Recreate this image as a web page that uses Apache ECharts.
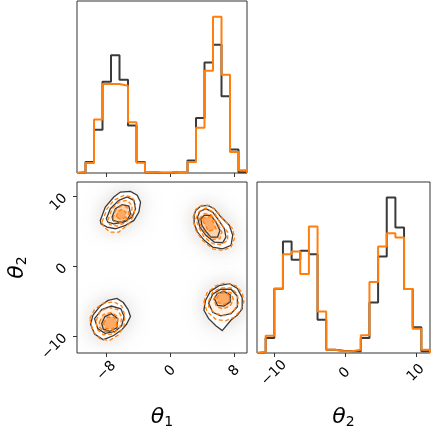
<!DOCTYPE html>
<html>
<head>
<meta charset="utf-8">
<script src="https://cdn.jsdelivr.net/npm/echarts@6/dist/echarts.min.js"></script>
<style>html,body{margin:0;padding:0;background:#fff}#c{width:431px;height:431px}</style>
</head>
<body>
<div id="c"></div>
<script>
// ---- data ----
const th1Range = [-11.7, 9.6];
const th2Range = [-12.4, 12.0];
const th1Ticks = [-8, 0, 8];
const th2Ticks = [-10, 0, 10];
// histogram heights (20 bins each)
const histTh1Black  = [2, 33, 130, 275, 355, 281, 143, 33, 2, 1, 1, 3, 3, 38, 166, 333, 386, 231, 71, 2];
const histTh1Orange = [2, 30, 161, 268, 268, 263, 153, 31, 3, 1, 1, 3, 3, 33, 136, 308, 471, 296, 63, 8];
const histTh2Black  = [2, 45, 193, 335, 280, 307, 297, 100, 10, 7, 5, 5, 45, 152, 290, 467, 377, 192, 77, 5];
const histTh2Orange = [2, 52, 193, 297, 305, 237, 380, 125, 10, 5, 5, 10, 53, 213, 320, 360, 347, 192, 73, 10];
// contour polygons (theta1, theta2), outer -> inner
const blackClusterA = [
  [[-8.78,6.52],[-8.15,8.43],[-7.09,9.86],[-6.26,10.57],[-5.0,10.67],[-4.16,10.1],[-3.74,9.14],[-3.95,7.71],[-4.57,6.52],[-5.63,5.81],[-6.89,5.33],[-7.93,5.57],[-8.69,6.04]],
  [[-8.02,6.76],[-7.52,8.19],[-6.46,9.39],[-5.42,9.86],[-4.57,9.39],[-4.37,8.19],[-4.79,7.0],[-5.83,6.29],[-7.09,6.04],[-7.85,6.29]],
  [[-7.3,7.0],[-6.89,8.19],[-6.05,8.76],[-5.2,8.57],[-5.0,7.47],[-5.42,6.52],[-6.46,6.29],[-7.18,6.52]]
];
const orangeClusterA = [
  [[-8.56,6.29],[-7.93,8.19],[-7.09,9.39],[-5.83,10.1],[-4.79,9.86],[-4.37,8.9],[-4.57,7.24],[-5.2,6.04],[-6.46,4.86],[-7.52,4.86],[-8.35,5.57]],
  [[-7.85,6.52],[-7.3,8.19],[-6.46,9.14],[-5.42,9.39],[-4.79,8.67],[-4.87,7.24],[-5.5,6.29],[-6.68,5.71],[-7.6,5.9]],
  [[-7.18,6.76],[-6.89,7.95],[-6.17,8.57],[-5.42,8.43],[-5.2,7.47],[-5.63,6.52],[-6.46,6.19],[-7.09,6.39]],
  [[-6.76,7.0],[-6.59,7.81],[-6.05,8.1],[-5.58,7.71],[-5.63,7.0],[-6.17,6.61]]
];
const blackClusterB = [
  [[2.98,7.24],[3.18,7.95],[3.82,8.57],[4.66,8.67],[5.5,8.19],[6.34,7.0],[7.39,5.81],[7.81,4.39],[7.6,2.96],[6.55,2.47],[5.29,2.71],[4.24,3.67],[3.4,4.86],[2.98,6.04]],
  [[3.4,7.0],[3.69,7.81],[4.45,8.19],[5.29,7.71],[5.92,6.76],[6.76,5.33],[6.96,4.14],[6.55,3.33],[5.5,3.43],[4.45,4.39],[3.69,5.57]],
  [[3.82,6.76],[4.24,7.24],[5.08,7.24],[5.71,6.29],[6.21,5.1],[5.92,4.14],[5.08,4.14],[4.45,4.95],[3.94,5.81]]
];
const orangeClusterB = [
  [[2.86,7.0],[3.19,8.1],[3.94,8.67],[4.87,8.67],[5.71,7.95],[6.76,6.52],[7.81,5.33],[8.02,3.9],[7.6,2.71],[6.55,2.24],[5.29,2.47],[4.03,3.67],[3.19,5.1]],
  [[3.19,6.76],[3.61,7.81],[4.45,8.29],[5.5,7.62],[6.34,6.04],[7.18,4.86],[7.18,3.67],[6.34,3.05],[5.29,3.19],[4.24,4.14],[3.53,5.57]],
  [[3.61,6.76],[4.24,7.47],[5.08,7.33],[5.92,6.04],[6.46,4.86],[6.21,3.9],[5.29,3.81],[4.45,4.61],[3.82,5.71]],
  [[3.94,6.76],[5.08,7.1],[5.71,5.33],[4.79,4.95]]
];
const blackClusterC = [
  [[-9.7,-7.0],[-8.8,-5.7],[-7.8,-4.9],[-6.7,-4.6],[-5.9,-5.2],[-5.3,-6.2],[-5.0,-7.2],[-5.5,-8.3],[-6.1,-9.1],[-7.1,-9.9],[-8.4,-10.5],[-9.5,-9.7],[-10.0,-8.3]],
  [[-9.5,-7.5],[-8.6,-6.2],[-7.4,-5.7],[-6.2,-6.1],[-5.8,-7.2],[-6.1,-8.5],[-6.9,-9.3],[-8.2,-9.6],[-9.1,-8.9]],
  [[-8.6,-8.2],[-8.2,-7.2],[-7.4,-6.8],[-6.6,-7.5],[-6.7,-8.8],[-7.6,-9.3],[-8.4,-9.0]]
];
const orangeClusterC = [
  [[-10.1,-7.5],[-9.5,-6.2],[-8.4,-5.3],[-7.1,-5.1],[-6.1,-5.7],[-5.7,-7.0],[-5.8,-8.5],[-6.5,-9.8],[-7.6,-10.6],[-8.8,-10.4],[-9.7,-9.3]],
  [[-9.3,-7.8],[-8.8,-6.4],[-7.7,-5.9],[-6.6,-6.2],[-6.1,-7.3],[-6.3,-8.7],[-7.2,-9.7],[-8.4,-9.8],[-9.2,-9.0]],
  [[-8.9,-8.0],[-8.4,-6.9],[-7.4,-6.6],[-6.6,-7.2],[-6.6,-8.4],[-7.3,-9.3],[-8.3,-9.3],[-8.9,-8.7]],
  [[-8.4,-8.2],[-7.9,-7.3],[-7.0,-7.3],[-6.7,-8.2],[-7.2,-9.0],[-8.1,-8.9]]
];
const blackClusterD = [
  [[4.4,-4.9],[5.0,-3.6],[6.1,-2.8],[7.4,-2.5],[8.4,-3.2],[9.0,-4.5],[9.0,-6.1],[8.4,-7.0],[7.6,-7.7],[6.5,-9.2],[5.7,-8.5],[4.8,-7.5],[4.2,-6.3]],
  [[4.8,-5.3],[5.3,-4.0],[6.3,-3.3],[7.6,-3.3],[8.4,-4.3],[8.4,-5.8],[7.6,-6.8],[6.3,-7.1],[5.3,-6.6]],
  [[5.5,-4.6],[5.9,-3.9],[6.7,-3.6],[7.5,-4.1],[7.5,-5.1],[6.7,-5.7],[5.9,-5.6]]
];
const orangeClusterD = [
  [[4.2,-5.1],[4.6,-3.8],[5.7,-2.8],[6.9,-2.4],[8.2,-2.8],[9.0,-3.8],[9.2,-5.1],[8.8,-6.3],[8.0,-7.3],[6.9,-7.8],[5.7,-7.6],[4.6,-6.5]],
  [[4.8,-5.0],[5.3,-3.7],[6.4,-3.1],[7.6,-3.1],[8.4,-4.0],[8.5,-5.3],[7.9,-6.5],[6.7,-7.1],[5.5,-6.7],[4.8,-5.8]],
  [[5.4,-4.8],[5.8,-3.9],[6.7,-3.5],[7.6,-3.8],[7.9,-4.8],[7.5,-5.7],[6.6,-6.1],[5.8,-5.8]],
  [[5.8,-4.6],[6.2,-3.9],[7.0,-3.8],[7.5,-4.4],[7.3,-5.2],[6.6,-5.5],[6.0,-5.2]]
];

// ---- build ----
const BLACK = '#3a3a3a', ORANGE = '#ff7f0e';
const FONT = 'DejaVu Sans';
const blackClusters = [blackClusterA, blackClusterB, blackClusterC, blackClusterD];
const orangeClusters = [orangeClusterA, orangeClusterB, orangeClusterC, orangeClusterD];

function edges(range, n) {
  const out = [];
  for (let i = 0; i <= n; i++) out.push(range[0] + i * (range[1] - range[0]) / n);
  return out;
}
function stepLine(range, h) {
  const e = edges(range, h.length);
  const pts = [[e[0], 0]];
  h.forEach((v, i) => { pts.push([e[i], v]); pts.push([e[i + 1], v]); });
  pts.push([e[h.length], 0]);
  return pts;
}
const fmt = v => (v < 0 ? '\u2212' + Math.abs(v) : String(v));

function polySeries(polys, style, z) {
  return {
    type: 'custom', xAxisIndex: 1, yAxisIndex: 1, z: z, silent: true, clip: true,
    data: polys.map(p => [p[0][0], p[0][1]]),
    encode: { x: 0, y: 1 },
    renderItem: (params, api) => {
      const poly = polys[params.dataIndex];
      return { type: 'polygon', shape: { points: poly.map(pt => api.coord(pt)) }, style: Object.assign({}, style) };
    }
  };
}
const pick = (clusters, lvl) => clusters.map(c => c[lvl]);

const tickStyle = { show: true, inside: false, length: 4, lineStyle: { color: '#333', width: 1 } };
const nameRich = () => ({
  rich: {
    a: { fontSize: 22, fontStyle: 'italic', fontFamily: FONT, color: '#000', lineHeight: 24 },
    b: { fontSize: 14, fontFamily: FONT, color: '#000', lineHeight: 6, verticalAlign: 'bottom' }
  }
});
const noLine = { show: false, onZero: false };

const grids = [
  { left: 77, top: 1, width: 170, height: 172 },
  { left: 77, top: 182, width: 170, height: 171 },
  { left: 257, top: 182, width: 173, height: 171 }
].map(g => Object.assign(g, { show: true, borderColor: '#333', borderWidth: 1, backgroundColor: 'transparent' }));

const h1max = 1.1 * Math.max(...histTh1Black, ...histTh1Orange);
const h2max = 1.1 * Math.max(...histTh2Black, ...histTh2Orange);
const labelBase = { fontSize: 14, fontFamily: FONT, color: '#000', formatter: fmt };

const option = {
  animation: false,
  grid: grids,
  xAxis: [
    { gridIndex: 0, type: 'value', position: 'bottom', min: th1Range[0], max: th1Range[1], axisLine: noLine, splitLine: { show: false },
      axisTick: Object.assign({ customValues: th1Ticks }, tickStyle), axisLabel: { show: false } },
    { gridIndex: 1, type: 'value', position: 'bottom', min: th1Range[0], max: th1Range[1], axisLine: noLine, splitLine: { show: false },
      axisTick: Object.assign({ customValues: th1Ticks }, tickStyle),
      axisLabel: Object.assign({ customValues: th1Ticks, rotate: 45, align: 'center', verticalAlign: 'middle', margin: 18 }, labelBase),
      name: '{a|θ}{b|1}', nameLocation: 'middle', nameGap: 52, nameTextStyle: nameRich() },
    { gridIndex: 2, type: 'value', position: 'bottom', min: th2Range[0], max: th2Range[1], axisLine: noLine, splitLine: { show: false },
      axisTick: Object.assign({ customValues: th2Ticks }, tickStyle),
      axisLabel: Object.assign({ customValues: th2Ticks, rotate: 45, align: 'center', verticalAlign: 'middle', margin: 20 }, labelBase),
      name: '{a|θ}{b|2}', nameLocation: 'middle', nameGap: 52, nameTextStyle: nameRich() }
  ],
  yAxis: [
    { gridIndex: 0, type: 'value', position: 'left', min: 0, max: h1max, axisLine: noLine, axisTick: { show: false }, axisLabel: { show: false }, splitLine: { show: false } },
    { gridIndex: 1, type: 'value', position: 'left', min: th2Range[0], max: th2Range[1], axisLine: noLine, splitLine: { show: false },
      axisTick: Object.assign({ customValues: th2Ticks }, tickStyle),
      axisLabel: Object.assign({ customValues: th2Ticks, rotate: 45, margin: 12 }, labelBase),
      name: '{a|θ}{b|2}', nameLocation: 'middle', nameGap: 48, nameTextStyle: nameRich() },
    { gridIndex: 2, type: 'value', position: 'left', min: 0, max: h2max, axisLine: noLine, axisTick: { show: false }, axisLabel: { show: false }, splitLine: { show: false } }
  ],
  series: [
    { type: 'line', xAxisIndex: 0, yAxisIndex: 0, data: stepLine(th1Range, histTh1Black), symbol: 'none', silent: true, lineStyle: { color: BLACK, width: 2 }, z: 3 },
    { type: 'line', xAxisIndex: 0, yAxisIndex: 0, data: stepLine(th1Range, histTh1Orange), symbol: 'none', silent: true, lineStyle: { color: ORANGE, width: 2 }, z: 4 },
    { type: 'line', xAxisIndex: 2, yAxisIndex: 2, data: stepLine(th2Range, histTh2Black), symbol: 'none', silent: true, lineStyle: { color: BLACK, width: 2 }, z: 3 },
    { type: 'line', xAxisIndex: 2, yAxisIndex: 2, data: stepLine(th2Range, histTh2Orange), symbol: 'none', silent: true, lineStyle: { color: ORANGE, width: 2 }, z: 4 },
    // faint point clouds around clusters
    polySeries(pick(blackClusters, 0), { fill: 'rgba(215,215,215,0.7)', shadowBlur: 22, shadowColor: 'rgba(140,140,140,0.5)' }, 1),
    polySeries(pick(orangeClusters, 0), { fill: 'rgba(250,225,205,0.5)', shadowBlur: 14, shadowColor: 'rgba(240,170,120,0.3)' }, 1),
    // white cover inside outer contours
    polySeries(pick(blackClusters, 0), { fill: '#ffffff' }, 2),
    polySeries(pick(orangeClusters, 0), { fill: '#ffffff' }, 2),
    // orange filled levels
    polySeries(pick(orangeClusters, 1), { fill: '#fff1e4' }, 3),
    polySeries(pick(orangeClusters, 2), { fill: '#fed2ab' }, 4),
    polySeries(pick(orangeClusters, 3), { fill: '#fcaa64' }, 5),
    // black contour lines
    polySeries(pick(blackClusters, 0), { fill: 'none', stroke: BLACK, lineWidth: 1.3 }, 6),
    polySeries(pick(blackClusters, 1), { fill: 'none', stroke: BLACK, lineWidth: 1.3 }, 6),
    polySeries(pick(blackClusters, 2), { fill: 'none', stroke: BLACK, lineWidth: 1.3 }, 6),
    // orange dashed contour lines
    polySeries(pick(orangeClusters, 0), { fill: 'none', stroke: ORANGE, lineWidth: 1.3, lineDash: [4, 2.5] }, 7),
    polySeries(pick(orangeClusters, 1), { fill: 'none', stroke: ORANGE, lineWidth: 1.3, lineDash: [4, 2.5] }, 7),
    polySeries(pick(orangeClusters, 2), { fill: 'none', stroke: ORANGE, lineWidth: 1.3, lineDash: [4, 2.5] }, 7),
    polySeries(pick(orangeClusters, 3), { fill: 'none', stroke: ORANGE, lineWidth: 1.3, lineDash: [4, 2.5] }, 7)
  ]
};
const chart = echarts.init(document.getElementById('c'), null, { renderer: 'canvas' });
chart.setOption(option);
</script>
</body>
</html>
